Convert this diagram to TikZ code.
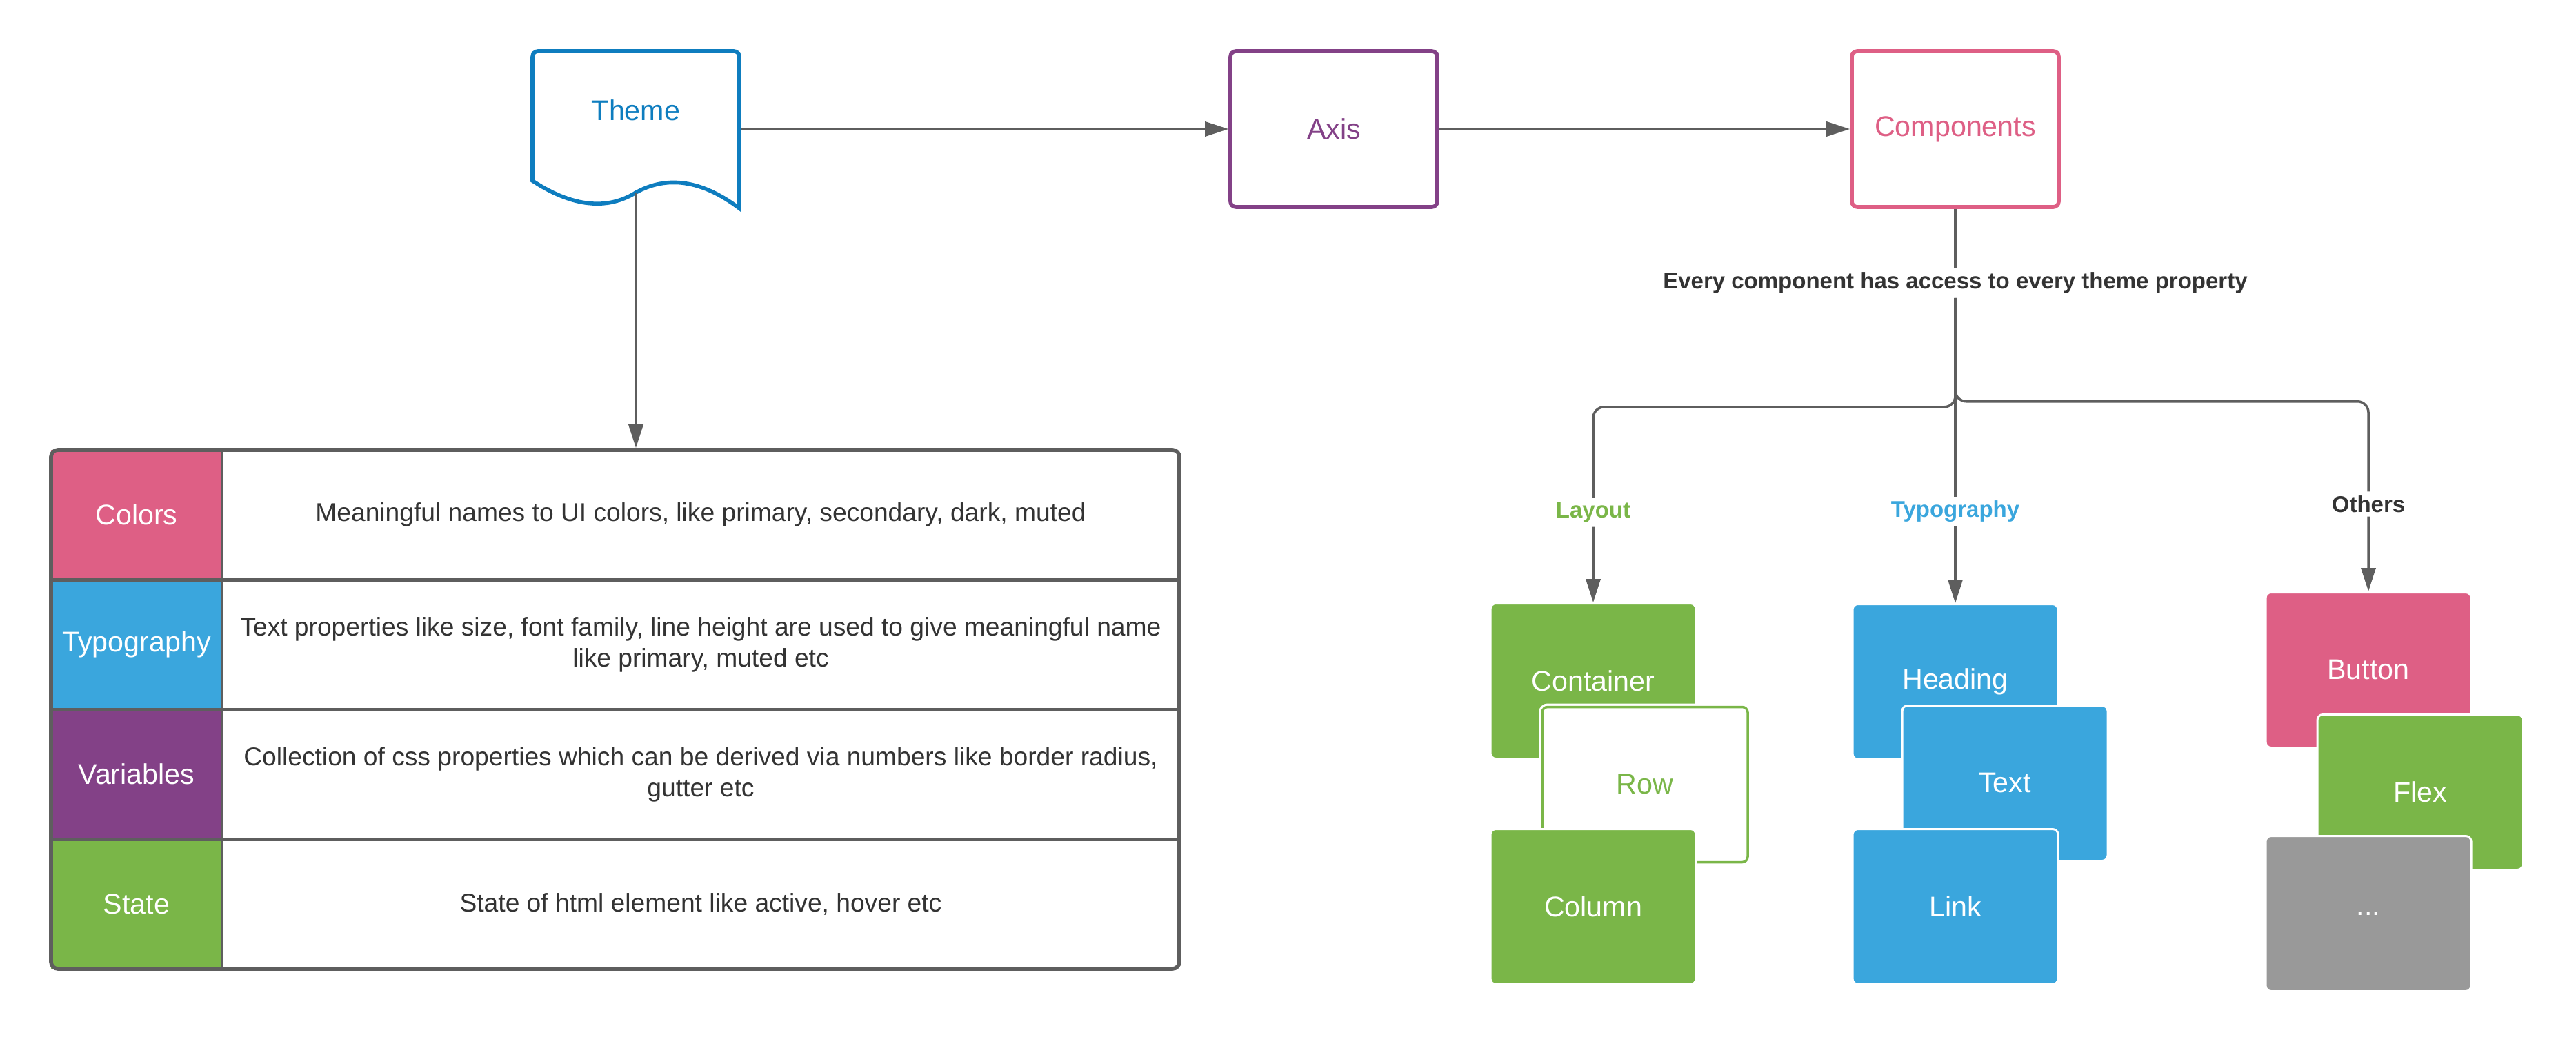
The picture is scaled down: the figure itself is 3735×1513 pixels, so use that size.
\documentclass[tikz,border=0pt]{standalone}
\usepackage{fontspec}
\setmainfont{Liberation Sans}
\usetikzlibrary{positioning,arrows.meta,fit,backgrounds,calc}
\definecolor{themeblue}{HTML}{0E7DBF}
\definecolor{axispurple}{HTML}{834187}
\definecolor{comppink}{HTML}{DE5F85}
\definecolor{leafgreen}{HTML}{7AB648}
\definecolor{skyblue}{HTML}{3AA6DD}
\definecolor{stone}{HTML}{999999}
\definecolor{wire}{HTML}{5E5E5E}
\definecolor{ink}{HTML}{333333}

\tikzset{
  bigtext/.style={font=\fontsize{20.6}{24}\selectfont},
  desctext/.style={font=\fontsize{18.6}{22.4}\selectfont,text=ink,align=center},
  tagtext/.style={font=\fontsize{16.5}{20}\selectfont\bfseries},
  branchtag/.style={tagtext,fill=white,inner sep=3pt},
  stagebox/.style={draw,line width=2.8pt,rounded corners=4pt,fill=white,
    minimum width=150pt,minimum height=113pt,bigtext},
  card/.style={draw=white,line width=1.5pt,rounded corners=4pt,
    minimum width=149pt,minimum height=112.5pt,bigtext,text=white},
  conn/.style={draw=wire,line width=1.75pt,-{Triangle[length=17pt,width=10.5pt]}},
  wireline/.style={draw=wire,line width=1.75pt},
  keycell/.style={minimum width=124pt,minimum height=94pt,inner sep=0pt,
    outer sep=0pt,bigtext,text=white},
  infocell/.style={minimum width=694pt,minimum height=94pt,inner sep=0pt,
    outer sep=0pt,desctext},
}

\begin{document}
\begin{tikzpicture}[x=0.5pt,y=-0.5pt]
\useasboundingbox (0,0) rectangle (3735,1513);

% theme, axis, components
\coordinate (themefoot) at (922,279);
\draw[themeblue,line width=2.8pt,fill=white] (772,262) [rounded corners=4pt]-- (772,74) -- (1072,74)
  [sharp corners]-- (1072,302) .. controls (1010,255) and (960,258) .. (themefoot)
  .. controls (880,305) and (830,300) .. (772,262) -- cycle;
\node[stagebox,draw=none,fill=none,
  label={[bigtext,text=themeblue,yshift=13.5pt]center:Theme}] (theme) at (922,187) {};
\node[stagebox,draw=axispurple,text=axispurple] (axis) at (1934,187) {Axis};
\node[stagebox,draw=comppink,text=comppink] (components) at (2835,187) {Components};
\draw[conn] (theme.east) -- (axis.west);
\draw[conn] (axis.east) -- (components.west);

% theme table
\node[keycell,fill=comppink] (colors) at (198,746) {Colors};
\node[infocell,right=0pt of colors] (colorsinfo) {Meaningful names to UI colors, like primary, secondary, dark, muted};
\node[keycell,fill=skyblue,below=0pt of colors] (typo) {Typography};
\node[infocell,right=0pt of typo] (typoinfo) {Text properties like size, font family, line height are used to give meaningful name\\like primary, muted etc};
\node[keycell,fill=axispurple,below=0pt of typo] (vars) {Variables};
\node[infocell,right=0pt of vars] (varsinfo) {Collection of css properties which can be derived via numbers like border radius,\\gutter etc};
\node[keycell,fill=leafgreen,below=0pt of vars] (state) {State};
\node[infocell,right=0pt of state] (stateinfo) {State of html element like active, hover etc};
\foreach \row/\info in {colors/colorsinfo,typo/typoinfo,vars/varsinfo}
  \draw[wire,line width=2.5pt] (\row.south west) -- (\info.south east);
\draw[wire,line width=2pt] (colors.north east) -- (state.south east);
\node[fit=(colors)(stateinfo),inner sep=0pt,draw=wire,line width=2.8pt,rounded corners=5pt] (table) {};
\draw[conn] (themefoot) -- (themefoot |- table.north);

% component cards
\node[card,fill=leafgreen] (container) at (2310,987) {Container};
\node[card,fill=white,draw=leafgreen,line width=1.75pt,text=leafgreen,
  preaction={draw=white,line width=5pt}] (row) at (2385,1137) {Row};
\node[card,fill=leafgreen] (column) at (2310,1314) {Column};
\node[card,fill=skyblue] (heading) at (2835,988) {Heading};
\node[card,fill=skyblue] (textbox) at (2907,1135) {Text};
\node[card,fill=skyblue] (link) at (2835,1314) {Link};
\node[card,fill=comppink] (button) at (3434,971) {Button};
\node[card,fill=leafgreen] (flex) at (3509,1148) {Flex};
\node[card,fill=stone] (more) at (3434,1324) {...};

% access branches
\node[tagtext,text=ink,fill=white,inner sep=3pt] (access) at (2835,410) {Every component has access to every theme property};
\draw[wireline] (components.south) -- (access.north);
\draw[conn,rounded corners=8pt] (access.south) -- ++(0,158) -| node[branchtag,pos=0.77,text=leafgreen] {Layout} (container.north);
\draw[conn,rounded corners=8pt] (access.south) -- ++(0,150) -| node[branchtag,pos=0.77,text=ink] {Others} (button.north);
\draw[conn] (access.south) -- node[branchtag,pos=0.7,text=skyblue] {Typography} (heading.north);
\end{tikzpicture}
\end{document}
